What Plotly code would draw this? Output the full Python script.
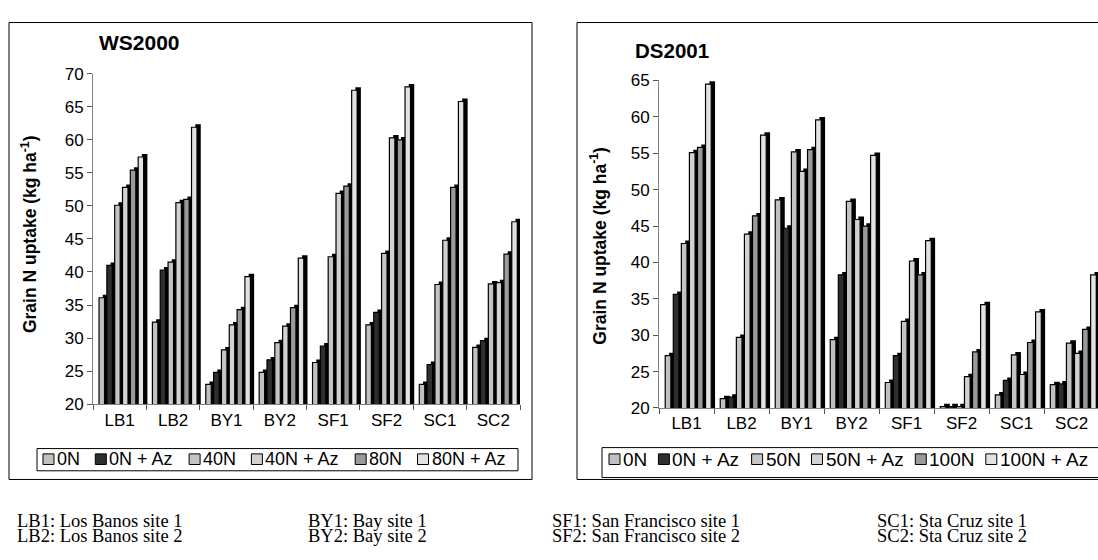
import plotly.graph_objects as go

W, H = 1098, 560

# Sites on the category axis
sites = ["LB1", "LB2", "BY1", "BY2", "SF1", "SF2", "SC1", "SC2"]

# WS2000 grain N uptake (kg/ha) by treatment
ws_names = ["0N", "0N + Az", "40N", "40N + Az", "80N", "80N + Az"]
ws_0n = [36.1, 32.4, 23.0, 24.8, 26.3, 32.0, 23.0, 28.6]
ws_0n_az = [41.0, 40.3, 24.8, 26.7, 28.8, 33.9, 26.0, 29.6]
ws_40n = [50.1, 41.5, 28.2, 29.3, 42.3, 42.8, 38.1, 38.2]
ws_40n_az = [52.8, 50.5, 32.0, 31.8, 51.9, 60.3, 44.8, 38.4]
ws_80n = [55.4, 51.0, 34.3, 34.6, 53.0, 60.0, 52.8, 42.7]
ws_80n_az = [57.4, 61.9, 39.3, 42.1, 67.5, 68.0, 65.8, 47.6]

# DS2001 grain N uptake (kg/ha) by treatment
ds_names = ["0N", "0N + Az", "50N", "50N + Az", "100N", "100N + Az"]
ds_0n = [27.2, 21.3, 48.6, 29.4, 23.5, 20.2, 21.8, 23.2]
ds_0n_az = [35.6, 21.5, 44.7, 38.3, 27.2, 20.2, 23.8, 23.3]
ds_50n = [42.6, 29.7, 55.2, 48.4, 31.9, 20.2, 27.3, 28.9]
ds_50n_az = [55.1, 43.9, 52.5, 45.9, 40.2, 24.3, 24.6, 27.5]
ds_100n = [55.8, 46.4, 55.5, 45.0, 38.3, 27.7, 29.0, 30.8]
ds_100n_az = [64.5, 57.5, 59.6, 54.7, 43.0, 34.2, 33.2, 38.3]

# Site abbreviations explained under the charts
key_cols = [
    ["LB1: Los Banos site 1", "LB2: Los Banos site 2"],
    ["BY1: Bay site 1", "BY2: Bay site 2"],
    ["SF1: San Francisco site 1", "SF2: San Francisco site 2"],
    ["SC1: Sta Cruz site 1", "SC2: Sta Cruz site 2"],
]

fills = ["#c0c0c0", "#2e2e2e", "#c4c4c4", "#d2d2d2", "#9a9a9a", "#e2e2e2"]

SANS = "Arial, Liberation Sans, sans-serif"
SERIF = "Times New Roman, Liberation Serif, serif"


def px(x):
    return x / W


def py(y):
    return 1 - y / H


# bar geometry in category units (pseudo-3D: black side/top face offset up-right)
START, PITCH, FW, DX = -0.387, 0.1466, 0.103, 0.07

fig = go.Figure()


def add_panel(series, names, xa, ya, depth_y):
    for k, (vals, name, col) in enumerate(zip(series, names, fills)):
        off = START + k * PITCH
        fig.add_trace(go.Bar(
            x=sites, y=vals, base=depth_y, offset=off + DX, width=FW,
            marker=dict(color="black", line=dict(width=0)),
            xaxis=xa, yaxis=ya, showlegend=False, hoverinfo="skip"))
        fig.add_trace(go.Bar(
            x=sites, y=vals, offset=off, width=FW, name=name,
            marker=dict(color=col, line=dict(color="black", width=1.2)),
            xaxis=xa, yaxis=ya, showlegend=False))


add_panel([ws_0n, ws_0n_az, ws_40n, ws_40n_az, ws_80n, ws_80n_az],
          ws_names, "x", "y", 3 * 50 / 342)
add_panel([ds_0n, ds_0n_az, ds_50n, ds_50n_az, ds_100n, ds_100n_az],
          ds_names, "x2", "y2", 3 * 45 / 339)

axis_common = dict(showgrid=False, zeroline=False, showline=True,
                   linecolor="#808080", linewidth=1, ticks="outside",
                   ticklen=5, tickcolor="#555555",
                   tickfont=dict(family=SANS, size=17, color="black"))

fig.update_layout(
    width=W, height=H, margin=dict(l=0, r=0, t=0, b=0),
    paper_bgcolor="white", plot_bgcolor="white",
    barmode="overlay", showlegend=False,
    xaxis=dict(domain=[px(93), px(520)], type="category", range=[-0.5, 7.5],
               tickson="boundaries", anchor="y", **axis_common),
    yaxis=dict(domain=[py(409), py(67)], range=[20, 70], dtick=5,
               anchor="x", **axis_common),
    xaxis2=dict(domain=[px(659), 1.0], type="category", range=[-0.5, 7.48],
                tickson="boundaries", anchor="y2", **axis_common),
    yaxis2=dict(domain=[py(413), py(74)], range=[20, 65], dtick=5,
                anchor="x2", **axis_common),
)

shapes = []
annotations = []

# chart frames and legend boxes
for x0, x1, y0, y1 in [(9, 532, 14, 487), (577, 1110, 14, 487)]:
    shapes.append(dict(type="rect", xref="paper", yref="paper",
                       x0=px(x0), x1=px(x1), y0=py(y1), y1=py(y0),
                       line=dict(color="black", width=1)))
for x0, x1, y0, y1 in [(37, 518, 455, 478), (602, 1110, 454, 485)]:
    shapes.append(dict(type="rect", xref="paper", yref="paper",
                       x0=px(x0), x1=px(x1), y0=py(y1), y1=py(y0),
                       line=dict(color="black", width=1)))

# legend keys: square swatch followed by its label
legend_rows = [
    (ws_names, [43, 95.3, 189.1, 251.4, 355.2, 417.5], 466, 18),
    (ds_names, [609, 658.4, 751.6, 811.5, 915.3, 985.8], 466, 19),
]
for names, xs, yc, fsize in legend_rows:
    for name, x0, col in zip(names, xs, fills):
        shapes.append(dict(type="rect", xref="paper", yref="paper",
                           x0=px(x0), x1=px(x0 + 11), y0=py(yc + 5.5), y1=py(yc - 5.5),
                           fillcolor=col, line=dict(color="black", width=1)))
        annotations.append(dict(xref="paper", yref="paper", x=px(x0 + 12), y=py(yc),
                                xanchor="left", yanchor="middle", showarrow=False,
                                text=name, font=dict(family=SANS, size=fsize, color="black")))

# panel titles
annotations.append(dict(xref="paper", yref="paper", x=px(139), y=py(35),
                        xanchor="center", yanchor="middle", showarrow=False,
                        text="<b>WS2000</b>", font=dict(family=SANS, size=21, color="black")))
annotations.append(dict(xref="paper", yref="paper", x=px(672), y=py(43),
                        xanchor="center", yanchor="middle", showarrow=False,
                        text="<b>DS2001</b>", font=dict(family=SANS, size=20.5, color="black")))

# y-axis titles
for xc, yc in [(29, 233), (598, 245)]:
    annotations.append(dict(xref="paper", yref="paper", x=px(xc), y=py(yc),
                            xanchor="center", yanchor="middle", showarrow=False,
                            textangle=-90,
                            text="<b>Grain N uptake (kg ha<sup>-1</sup>)</b>",
                            font=dict(family=SANS, size=17.5, color="black")))

# site key under the charts (tightly stacked lines)
for xcol, lines in zip([15, 306, 550, 875], key_cols):
    for line, yc in zip(lines, [530, 545]):
        annotations.append(dict(xref="paper", yref="paper", x=px(xcol), y=py(yc),
                                xanchor="left", yanchor="middle", showarrow=False,
                                text=line, font=dict(family=SERIF, size=18.5, color="black")))

fig.update_layout(shapes=shapes, annotations=annotations)

# page without body margin so the figure fills the window exactly
fig.write_html(
    "out.html",
    post_script="document.body.style.margin='0';document.body.style.overflow='hidden';",
)
